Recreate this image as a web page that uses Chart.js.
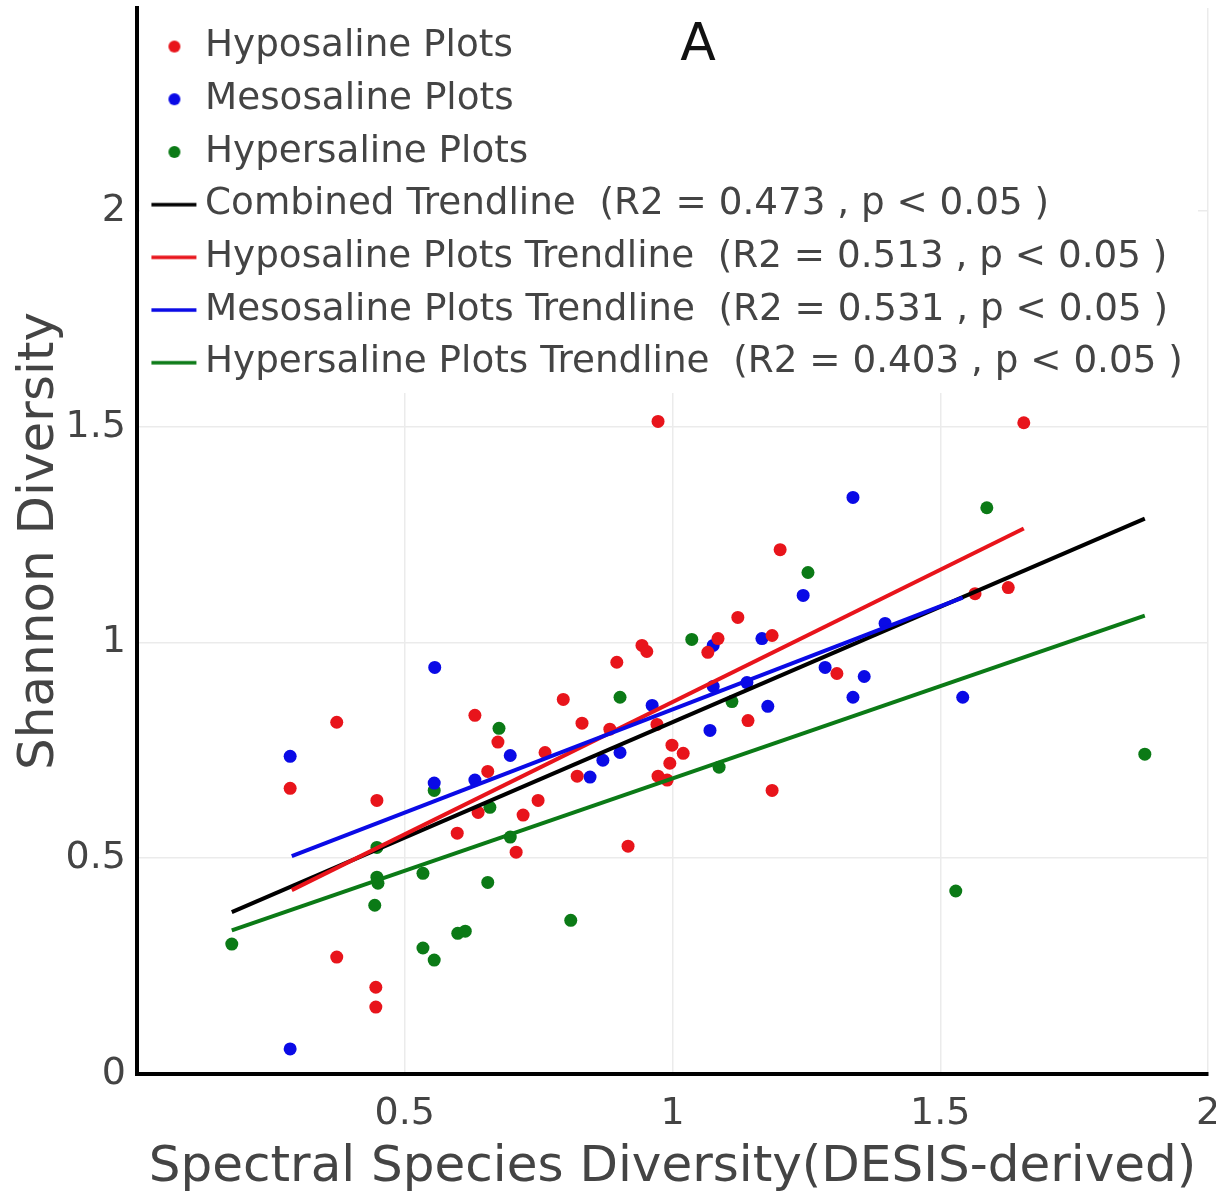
<!DOCTYPE html>
<html>
<head>
<meta charset="utf-8">
<title>Shannon vs Spectral Species Diversity</title>
<script src="https://cdn.jsdelivr.net/npm/chart.js@4.4.1/dist/chart.umd.min.js"></script>
<style>
    html, body { margin: 0; padding: 0; background: #fff; }
    #wrap { width: 1216px; height: 1193px; }
</style>
</head>
<body>
<div id="wrap"><canvas id="ctx_diversity" width="1216" height="1193"></canvas></div>
<script>
// values
var hypo_x = [0.973, 1.656, 1.201, 1.565, 1.627, 1.122, 1.085, 1.066, 1.186, 0.943, 0.952, 0.896, 0.373, 0.631,
              0.796, 0.831, 0.883, 0.971, 1.141, 1.307, 0.822, 0.999, 1.020, 0.995, 0.973, 0.990, 1.186, 0.917,
              0.286, 0.448, 0.674, 0.655, 0.762, 0.598, 0.637, 0.721, 0.749, 0.708, 0.373, 0.446, 0.446];
var hypo_y = [1.512, 1.509, 1.215, 1.113, 1.127, 1.058, 1.009, 0.977, 1.016, 0.993, 0.979, 0.954, 0.815, 0.831,
              0.868, 0.813, 0.799, 0.810, 0.819, 0.928, 0.690, 0.762, 0.743, 0.720, 0.690, 0.681, 0.657, 0.528,
              0.662, 0.634, 0.769, 0.701, 0.745, 0.558, 0.606, 0.600, 0.634, 0.514, 0.271, 0.201, 0.155];

var meso_x = [1.337, 1.244, 1.167, 1.076, 1.397, 1.285, 1.358, 1.337, 1.542, 1.178, 1.076, 1.139, 0.962, 1.070,
              0.870, 0.902, 0.846, 0.286, 0.286, 0.555, 0.631, 0.697, 0.556];
var meso_y = [1.336, 1.109, 1.009, 0.993, 1.044, 0.942, 0.921, 0.873, 0.873, 0.852, 0.898, 0.907, 0.854, 0.796,
              0.727, 0.745, 0.688, 0.736, 0.058, 0.674, 0.681, 0.738, 0.942];

var hyper_x = [1.587, 1.253, 1.036, 0.902, 1.111, 1.882, 1.529, 1.087, 0.810, 0.676, 0.555, 0.659, 0.448, 0.448,
               0.450, 0.444, 0.534, 0.697, 0.655, 0.177, 0.534, 0.555, 0.599, 0.613];
var hyper_y = [1.312, 1.162, 1.007, 0.873, 0.863, 0.741, 0.424, 0.711, 0.356, 0.801, 0.657, 0.618, 0.525, 0.456,
               0.442, 0.391, 0.465, 0.549, 0.444, 0.301, 0.292, 0.264, 0.326, 0.331];

// trendline end points
var trend_all_x = [0.177, 1.882];   var trend_all_y = [0.375, 1.287];
var trend_hypo_x = [0.289, 1.656];  var trend_hypo_y = [0.426, 1.264];
var trend_meso_x = [0.289, 1.542];  var trend_meso_y = [0.505, 1.104];
var trend_hyper_x = [0.177, 1.882]; var trend_hyper_y = [0.333, 1.062];

var labels = [
    'Hyposaline Plots',
    'Mesosaline Plots',
    'Hypersaline Plots',
    'Combined Trendline  (R2 = 0.473 , p < 0.05 )',
    'Hyposaline Plots Trendline  (R2 = 0.513 , p < 0.05 )',
    'Mesosaline Plots Trendline  (R2 = 0.531 , p < 0.05 )',
    'Hypersaline Plots Trendline  (R2 = 0.403 , p < 0.05 )'
];

var x_ticks = [0.5, 1, 1.5, 2];
var y_ticks = [0, 0.5, 1, 1.5, 2];

var c_red = '#e8141b', c_blue = '#0a0ae6', c_green = '#0b7a16', c_black = '#000000';

function pts(xs, ys) {
    return xs.map(function (v, i) { return {x: v, y: ys[i]}; });
}

// legend markers, drawn a bit right of the canvas centre
function make_marker(kind, color) {
    var c = document.createElement('canvas');
    c.width = 56; c.height = 16;
    var g = c.getContext('2d');
    if (kind == 'dot') {
        g.fillStyle = color;
        g.beginPath(); g.arc(33, 8, 6, 0, Math.PI * 2); g.fill();
    } else {
        g.strokeStyle = color; g.lineWidth = 3.5;
        g.beginPath(); g.moveTo(10, 8); g.lineTo(55, 8); g.stroke();
    }
    return c;
}

var markers = [
    make_marker('dot', c_red), make_marker('dot', c_blue), make_marker('dot', c_green),
    make_marker('line', c_black), make_marker('line', c_red), make_marker('line', c_blue), make_marker('line', c_green)
];

function scatter_set(i, xs, ys, color) {
    return {label: labels[i], data: pts(xs, ys), backgroundColor: color, borderColor: color,
            pointRadius: 6.5, pointBorderWidth: 0, order: 10};
}
function trend_set(i, xs, ys, color, order) {
    return {label: labels[i], data: pts(xs, ys), showLine: true, borderColor: color, backgroundColor: color,
            borderWidth: 4, pointRadius: 0, order: order};
}

var legend_bg = {
    id: 'legend_bg',
    beforeDatasetsDraw: function (chart) {
        var a = chart.chartArea, c = chart.ctx;
        c.save();
        c.fillStyle = '#fff';
        c.fillRect(a.left + 3, a.top, 1198 - a.left - 3, 393 - a.top);
        c.restore();
        chart.legend.draw();
    },
    afterDraw: function (chart) {
        var c = chart.ctx;
        c.save();
        c.font = '52px "DejaVu Sans"';
        c.fillStyle = '#111';
        c.textAlign = 'center';
        c.textBaseline = 'middle';
        c.fillText('A', 698, 46);
        c.restore();
    }
};

Chart.defaults.font.family = '"DejaVu Sans", Verdana, sans-serif';
Chart.defaults.color = '#444';

var ctx_diversity = document.getElementById('ctx_diversity').getContext('2d');
var chart_diversity = new Chart(ctx_diversity, {
    type: 'scatter',
    data: {
        datasets: [
            scatter_set(0, hypo_x, hypo_y, c_red),
            scatter_set(1, meso_x, meso_y, c_blue),
            scatter_set(2, hyper_x, hyper_y, c_green),
            trend_set(3, trend_all_x, trend_all_y, c_black, 4),
            trend_set(4, trend_hypo_x, trend_hypo_y, c_red, 3),
            trend_set(5, trend_meso_x, trend_meso_y, c_blue, 2),
            trend_set(6, trend_hyper_x, trend_hyper_y, c_green, 1)
        ]
    },
    options: {
        responsive: false,
        animation: false,
        devicePixelRatio: 1,
        layout: {padding: {top: 8, right: 8, left: 0, bottom: 0}},
        plugins: {
            tooltip: {enabled: false},
            legend: {
                position: 'chartArea',
                align: 'start',
                // empty title only pushes the rows down
                title: {display: true, text: ' ', font: {size: 12.5, lineHeight: 1}, padding: 0},
                labels: {
                    usePointStyle: true,
                    pointStyleWidth: 34,
                    padding: 15.4,
                    color: '#444',
                    font: {size: 37.3},
                    sort: function (a, b) { return a.datasetIndex - b.datasetIndex; },
                    generateLabels: function (chart) {
                        var items = Chart.defaults.plugins.legend.labels.generateLabels(chart);
                        items.forEach(function (it) { it.pointStyle = markers[it.datasetIndex]; });
                        return items;
                    }
                }
            }
        },
        scales: {
            x: {
                type: 'linear',
                min: 0,
                max: 2,
                afterBuildTicks: function (s) { s.ticks = x_ticks.map(function (v) { return {value: v}; }); },
                afterFit: function (s) { s.height = 119; s.paddingLeft = 0; s.paddingRight = 0; },
                ticks: {
                    padding: 17,
                    font: {size: 38},
                    color: '#444',
                    callback: function (v) { return String(v); }
                },
                grid: {color: '#ebebeb', lineWidth: 1.5, drawTicks: false},
                border: {display: true, color: '#000', width: 4},
                title: {
                    display: true,
                    text: 'Spectral Species Diversity(DESIS-derived)',
                    color: '#444',
                    font: {size: 50, lineHeight: 1},
                    padding: {top: 0, bottom: 0}
                }
            },
            y: {
                type: 'linear',
                min: 0,
                max: 2.47,
                afterBuildTicks: function (s) { s.ticks = y_ticks.map(function (v) { return {value: v}; }); },
                afterFit: function (s) { s.width = 137; s.paddingTop = 0; s.paddingBottom = 0; },
                ticks: {
                    padding: 11,
                    font: {size: 38},
                    color: '#444',
                    callback: function (v) { return String(v); }
                },
                grid: {color: '#ebebeb', lineWidth: 1.5, drawTicks: false},
                border: {display: true, color: '#000', width: 4},
                title: {
                    display: true,
                    text: 'Shannon Diversity',
                    color: '#444',
                    font: {size: 50, lineHeight: 1.2},
                    padding: {top: 10, bottom: 0}
                }
            }
        }
    },
    plugins: [legend_bg]
});
</script>
</body>
</html>
